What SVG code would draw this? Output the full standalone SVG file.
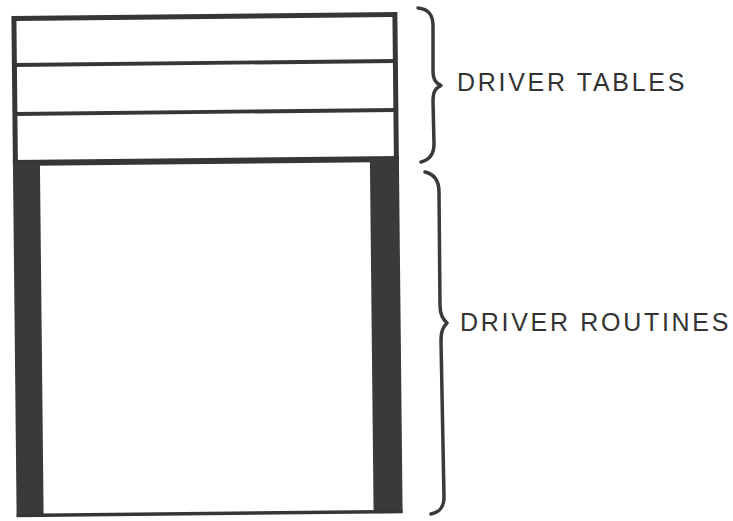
<svg xmlns="http://www.w3.org/2000/svg" width="733" height="521" viewBox="0 0 733 521">
  <style>
    .edge { fill: none; stroke: #363636; }
    .bar { fill: #3a3a3a; }
    .brace { fill: none; stroke: #3a3a3a; stroke-width: 3.5; stroke-linecap: round; stroke-linejoin: round; }
    .label { font-family: "Liberation Sans", Arial, sans-serif; font-size: 25px; letter-spacing: 2.7px; fill: #333333; }
  </style>
  <rect x="0" y="0" width="733" height="521" fill="#ffffff"/>
  <g id="memory-block" transform="rotate(-0.6 205 265)">
    <g id="driver-tables-block">
      <rect x="16.5" y="16.5" width="381" height="145" fill="#ffffff" class="edge" stroke-width="5"/>
      <line x1="16" y1="63" x2="398" y2="63" class="edge" stroke-width="3.8"/>
      <line x1="16" y1="112" x2="398" y2="112" class="edge" stroke-width="3.8"/>
      <line x1="14" y1="160" x2="400" y2="160" class="edge" stroke-width="4"/>
    </g>
    <g id="driver-routines-block">
      <rect x="14" y="160" width="27" height="355" class="bar"/>
      <rect x="371" y="160" width="29" height="355" class="bar"/>
      <line x1="14" y1="513.5" x2="400" y2="513.5" class="edge" stroke-width="3.5"/>
    </g>
  </g>
  <g id="braces">
    <path class="brace" d="M418,8 C428,9 433,14 433,26 L433,70 C433,80 436,83 441,85.5 C436,88 433,91 433,101 L434,144 C434,155 429,160 421,162"/>
    <path class="brace" d="M425,172 C434,174 439,180 439,192 L440,305 C440,315 443,319 447,323 C443,327 441,331 441,341 L444,497 C444,507 440,512 431,514"/>
  </g>
  <g id="labels">
    <text class="label" x="457" y="91">DRIVER TABLES</text>
    <text class="label" x="460" y="331">DRIVER ROUTINES</text>
  </g>
</svg>
